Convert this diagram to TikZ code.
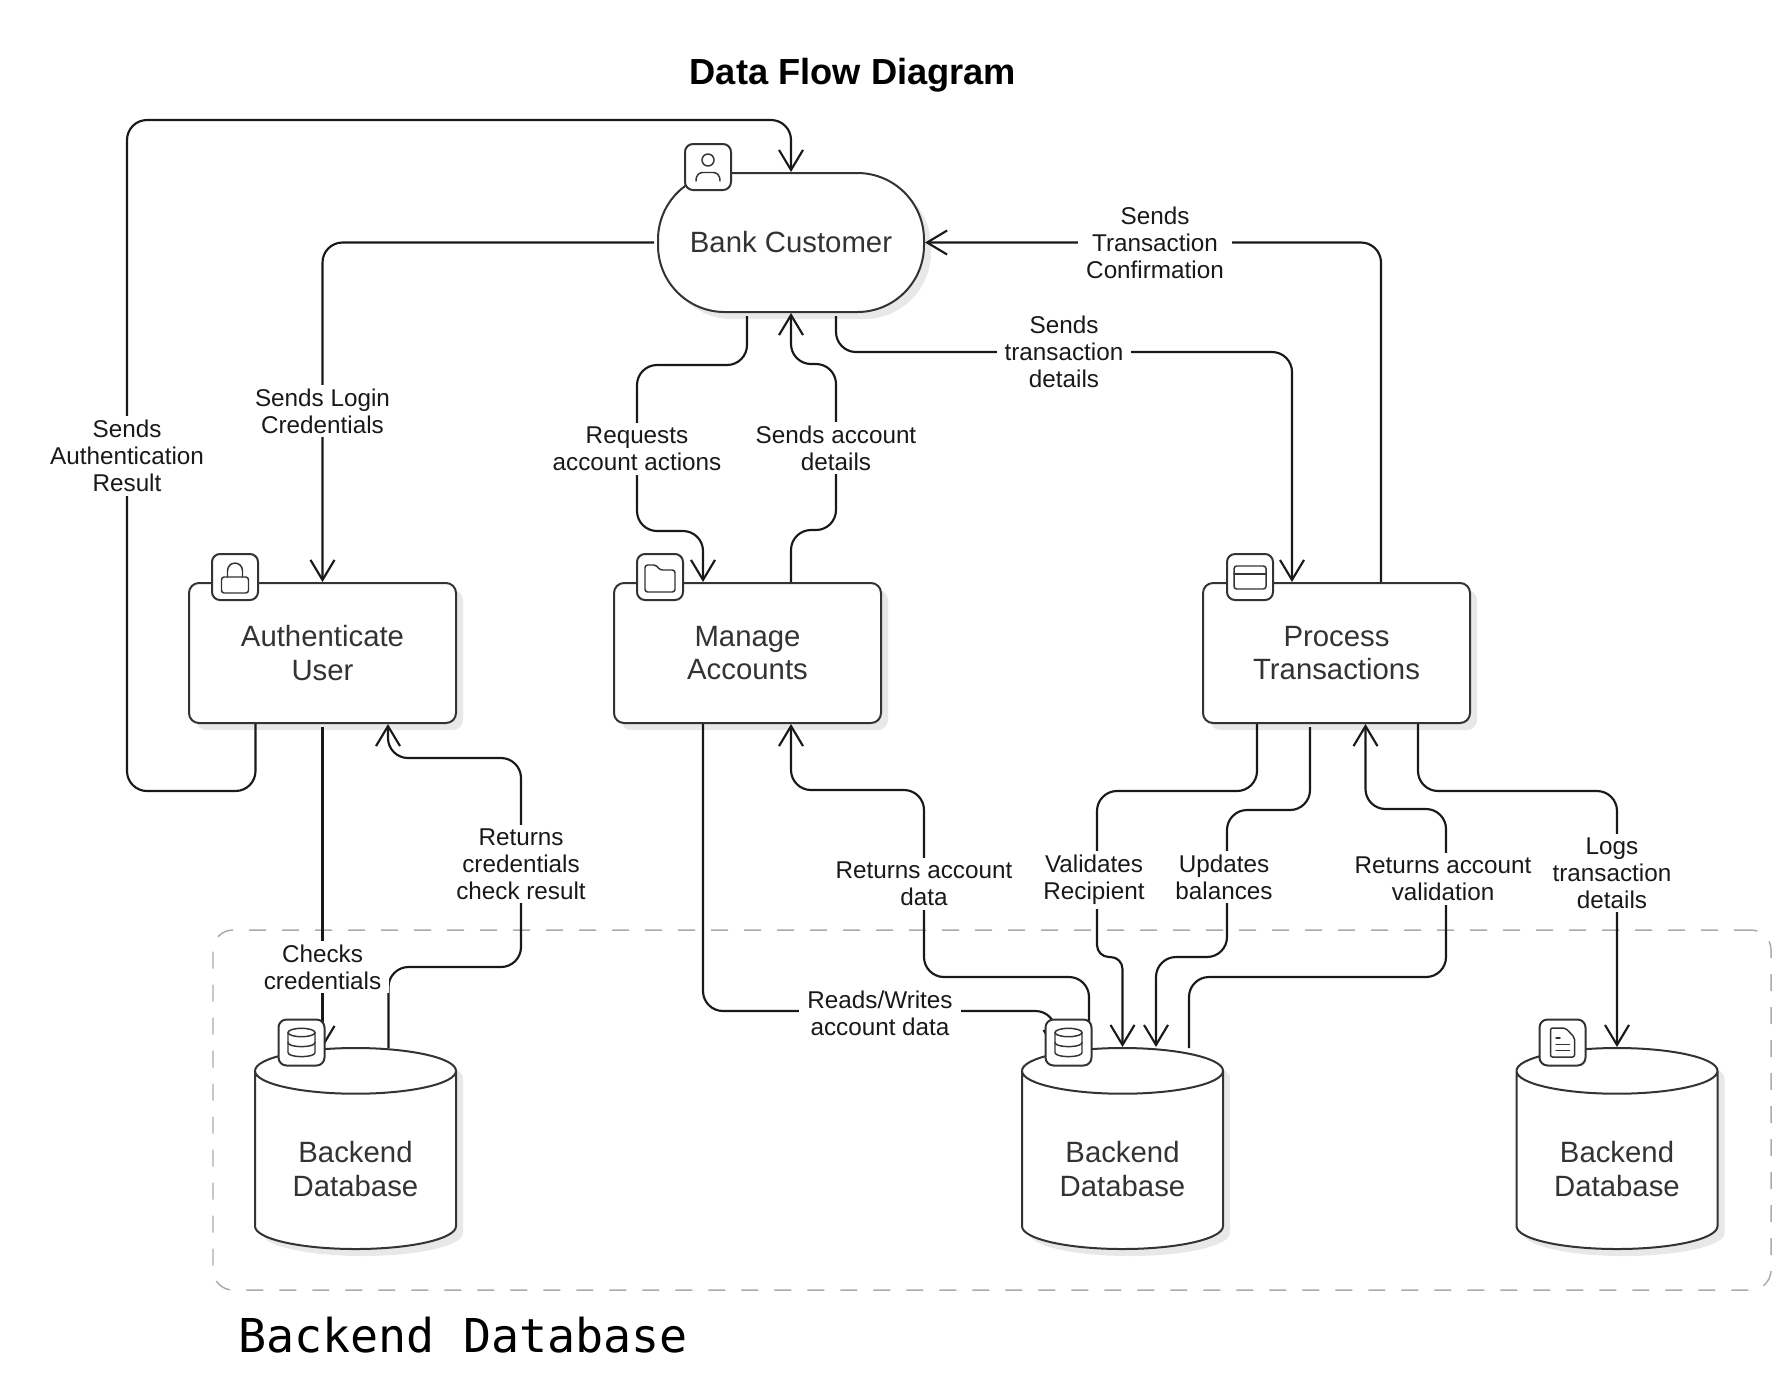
\documentclass[tikz,border=0pt]{standalone}
\usepackage{fontspec}
\setmainfont{Liberation Sans}
\newfontfamily\groupfont{DejaVu Sans Mono}
\usetikzlibrary{arrows.meta,calc,shadows,shapes.geometric}
\definecolor{inkgray}{HTML}{333333}
\definecolor{shadegray}{HTML}{E8E8E8}
\definecolor{dashgray}{HTML}{ABABAB}
\def\dbtext{\rule{0pt}{23.5pt}Backend\\Database}
\tikzset{
	softshade/.style={drop shadow={shadow xshift=5.25pt,shadow yshift=-5.25pt,opacity=1,fill=shadegray}},
	nodetext/.style={text=inkgray,font=\fontsize{22}{25}\selectfont,align=center},
	procbox/.style={nodetext,draw=inkgray,fill=white,line width=1.5pt,rounded corners=7.5pt,minimum width=200.25pt,minimum height=105pt,softshade},
	custbox/.style={nodetext,draw=inkgray,fill=white,line width=1.5pt,rounded corners=50pt,minimum width=199.5pt,minimum height=104.25pt,softshade},
	dbshape/.style={nodetext,draw=inkgray,fill=white,line width=1.5pt,cylinder,shape border rotate=90,aspect=0.34,minimum width=150.75pt,minimum height=150.75pt,anchor=shape center,softshade},
	iconbox/.style={draw=inkgray,fill=white,line width=1.5pt,rounded corners=6pt,minimum size=34.5pt,inner sep=0pt},
	glyph/.style={draw=inkgray,line width=1.1pt,line cap=round,line join=round},
	flow/.style={draw=black!90,line width=1.6pt,rounded corners=15pt,-{Straight Barb[length=15pt,width=18pt]}},
	flowlab/.style={fill=white,text=black!90,font=\fontsize{18.2}{20.25}\selectfont,align=center,inner xsep=6pt,inner ysep=3pt},
	iconuser/.pic={
		\draw[glyph] (0,-7) circle (6);
		\draw[glyph] (-12,14) .. controls (-12,7) and (-8,5.5) .. (-5,5.5) -- (5,5.5) .. controls (8,5.5) and (12,7) .. (12,14);
	},
	iconlock/.pic={
		\draw[glyph,rounded corners=2pt] (-13.5,0) rectangle (13.5,16);
		\draw[glyph] (-7.5,0) -- (-7.5,-6) .. controls (-7.5,-16.5) and (7.5,-16.5) .. (7.5,-6) -- (7.5,0);
	},
	iconfolder/.pic={
		\draw[glyph,rounded corners=2pt] (-15,-12) -- (-4,-12) -- (0,-7) -- (15,-7) -- (15,15) -- (-15,15) -- cycle;
	},
	iconcard/.pic={
		\draw[glyph,rounded corners=2pt] (-16,-11) rectangle (16,12);
		\draw[glyph] (-16,-3) -- (16,-3);
	},
	icondb/.pic={
		\draw[glyph] (0,-10) ellipse [x radius=13.5,y radius=4.2];
		\draw[glyph] (-13.5,-10) -- (-13.5,10) .. controls (-13.5,15.5) and (13.5,15.5) .. (13.5,10) -- (13.5,-10);
		\draw[glyph] (-13.5,0) .. controls (-13.5,5.5) and (13.5,5.5) .. (13.5,0);
	},
	icondoc/.pic={
		\draw[glyph,rounded corners=1.5pt] (-12,-14.5) -- (3,-14.5) -- (12,-5) -- (12,14.5) -- (-12,14.5) -- cycle;
		\draw[glyph] (-6.5,-4.5) -- (-2.5,-4.5);
		\draw[glyph] (-6.5,2) -- (7,2);
		\draw[glyph] (-6.5,8) -- (7,8);
	},
}

\begin{document}
\begin{tikzpicture}[x=0.75pt,y=-0.75pt]
	\useasboundingbox (0,0) rectangle (1791,1390);
	
	%%%%% GROUP AND TITLE %%%%%
	\node[font=\bfseries\fontsize{27.2}{32}\selectfont] (title) at (853,75) {Data Flow Diagram};
	\node[draw=dashgray,line width=1.1pt,rounded corners=15pt,dash pattern=on 12.75pt off 12pt,minimum width=1168.5pt,minimum height=270pt] (backend) at (992,1110) {};
	\node[font=\groupfont\fontsize{35}{40}\selectfont,anchor=base west,inner sep=0pt] (backendlab) at (238,1352) {Backend Database};
	
	%%%%% NODES %%%%%
	\node[custbox] (cust) at (791,242.5) {Bank Customer};
	\node[procbox] (auth) at (322.5,653) {Authenticate\\User};
	\node[procbox] (manage) at (747.5,653) {Manage\\Accounts};
	\node[procbox] (process) at (1336.5,653) {Process\\Transactions};
	\node[dbshape] (db1) at (355.5,1148.5) {\dbtext};
	\node[dbshape] (db2) at (1122.5,1148.5) {\dbtext};
	\node[dbshape] (db3) at (1617,1148.5) {\dbtext};
	
	%%%%% CONNECTORS %%%%%
	\draw[flow] ($(auth.south)+(-67,0)$) -- ++(0,67) -| (127,120) -| (cust.north);
	\draw[flow] ($(cust.west)+(-3,0)$) -| (auth.north);
	\draw[flow] ($(cust.south)+(-44,3)$) -- ++(0,49) -| (637,531) -| ($(manage.north)+(-44.5,0)$);
	\draw[flow] ($(manage.north)+(43.5,0)$) -- ++(0,-52) -| (836,364) -| (cust.south);
	\draw[flow] ($(cust.south)+(45,3)$) |- (1292,352) -- ($(process.north)+(-44.5,0)$);
	\draw[flow] ($(process.north)+(44.5,0)$) |- (cust.east);
	\draw[flow] ($(auth.south)+(0,3)$) -- ($(db1.top)+(-33,1)$);
	\draw[flow] ($(db1.top)+(33,1)$) -- ++(0,-81) -| (521,758) -| ($(auth.south)+(65.5,0)$);
	\draw[flow] ($(manage.south)+(-44.5,0)$) |- ($(db2.top)+(-67,-36)$) -- ($(db2.top)+(-67,5)$);
	\draw[flow] ($(db2.top)+(-33.5,0)$) -- ++(0,-70) -| (924,790) -| ($(manage.south)+(43.5,0)$);
	\draw[flow] ($(process.south)+(-79.5,0)$) -- ++(0,67) -| (1097,900) [rounded corners=9pt] -- (1097,957) -| (db2.top);
	\draw[flow] ($(process.south)+(-26.5,3)$) -- ++(0,83) -| (1227,957) -| ($(db2.top)+(33.5,0)$);
	\draw[flow] ($(db2.top)+(66.5,1)$) -- ++(0,-71) -| (1446,809) -| ($(process.south)+(29,0)$);
	\draw[flow] ($(process.south)+(81.5,0)$) -- ++(0,67) -| (db3.top);
	
	%%%%% CONNECTOR LABELS %%%%%
	\node[flowlab] (labauthres) at (127,456) {Sends\\Authentication\\Result};
	\node[flowlab] (lablogin) at (322.5,411) {Sends Login\\Credentials};
	\node[flowlab] (labrequests) at (637,449) {Requests\\account actions};
	\node[flowlab] (labsendsacc) at (836,448) {Sends account\\details};
	\node[flowlab] (labtxdetails) at (1064,352) {Sends\\transaction\\details};
	\node[flowlab] (labconfirm) at (1155,243) {Sends\\Transaction\\Confirmation};
	\node[flowlab] (labchecks) at (322.5,967) {Checks\\credentials};
	\node[flowlab] (labcredres) at (521,864) {Returns\\credentials\\check result};
	\node[flowlab] (labreads) at (880,1013) {Reads/Writes\\account data};
	\node[flowlab] (labaccdata) at (924,884) {Returns account\\data};
	\node[flowlab] (labvalid) at (1094,880) {Validates\\Recipient};
	\node[flowlab] (labupdates) at (1224,877) {Updates\\balances};
	\node[flowlab] (labaccvalid) at (1443,879) {Returns account\\validation};
	\node[flowlab] (lablogs) at (1612,873) {Logs\\transaction\\details};
	
	%%%%% ICONS %%%%%
	\node[iconbox] (iccust) at (708,167) {};
	\node[iconbox] (icauth) at (235,577) {};
	\node[iconbox] (icmanage) at (660,577) {};
	\node[iconbox] (icprocess) at (1250,577) {};
	\node[iconbox] (icdbone) at (301.5,1042.5) {};
	\node[iconbox] (icdbtwo) at (1068.5,1042.5) {};
	\node[iconbox] (icdbthree) at (1562.5,1042.5) {};
	\pic at (iccust) {iconuser};
	\pic at (icauth) {iconlock};
	\pic at (icmanage) {iconfolder};
	\pic at (icprocess) {iconcard};
	\pic at (icdbone) {icondb};
	\pic at (icdbtwo) {icondb};
	\pic at (icdbthree) {icondoc};
\end{tikzpicture}
\end{document}
